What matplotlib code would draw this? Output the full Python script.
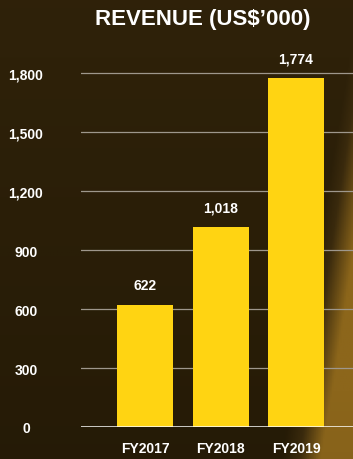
import numpy as np
import matplotlib
matplotlib.use("Agg")
import matplotlib.pyplot as plt
from matplotlib.colors import LinearSegmentedColormap

# data
years = ["FY2017", "FY2018", "FY2019"]
revenue = [622, 1018, 1774]
value_labels = ["622", "1,018", "1,774"]
y_ticks = [0, 300, 600, 900, 1200, 1500, 1800]
y_tick_labels = ["0", "300", "600", "900", "1,200", "1,500", "1,800"]

BAR = "#FFD412"
BG = "#2a1e08"

plt.rcParams["font.family"] = ["Liberation Sans", "DejaVu Sans"]

fig = plt.figure(figsize=(3.53, 4.60), dpi=100)
fig.patch.set_facecolor(BG)

# background: dark brown, a bit lighter up top, golden glow at lower right
bg = fig.add_axes([0, 0, 1, 1], zorder=0)
bg.axis("off")
gx, gy = np.meshgrid(np.linspace(0, 1, 200), np.linspace(0, 1, 260))
glow = np.clip((gx - 0.9) * 9 + (0.45 - gy) * 2.0, 0, 1)
shade = 0.18 * gy
cmap = LinearSegmentedColormap.from_list("bg", ["#1f1604", "#3a2a0d", "#8c661b"])
bg.imshow(np.clip(0.12 + shade + glow * 0.85, 0, 1), cmap=cmap, vmin=0, vmax=1,
          aspect="auto", extent=[0, 1, 0, 1], origin="lower")
bg.set_xlim(0, 1)
bg.set_ylim(0, 1)

ax = fig.add_axes([81 / 353, 32 / 460, 272 / 353, 393.3 / 460], zorder=1)
ax.patch.set_alpha(0)

x = np.arange(len(years))
ax.bar(x, revenue, width=0.742, color=BAR, zorder=3)
for xi, v, lab in zip(x, revenue, value_labels):
    ax.annotate(lab, (xi, v), xytext=(0, 9), textcoords="offset points",
                ha="center", va="bottom", color="white", fontsize=10,
                fontweight="bold")

ax.set_xlim(-0.848, 2.755)
ax.set_ylim(0, 2000)
ax.set_yticks(y_ticks)
ax.set_yticklabels(y_tick_labels)
ax.set_xticks(x)
ax.set_xticklabels(years)

for y in y_ticks[1:]:
    ax.axhline(y, color="#9e978c", lw=0.9, zorder=1)
ax.axhline(0, color="white", lw=1.8, zorder=4)

for s in ax.spines.values():
    s.set_visible(False)
ax.tick_params(axis="y", length=0, pad=39.6, colors="white", labelsize=10)
ax.tick_params(axis="x", length=0, pad=10, colors="white", labelsize=10)
for t in ax.get_yticklabels():
    t.set_horizontalalignment("center")
    t.set_fontweight("bold")
for t in ax.get_xticklabels():
    t.set_fontweight("bold")

fig.text(203 / 353, 1 - 20 / 460, "REVENUE (US$\u2019000)", ha="center",
         va="center", color="white", fontsize=16, fontweight="bold")

fig.savefig("out.png", dpi=100, facecolor=BG)
